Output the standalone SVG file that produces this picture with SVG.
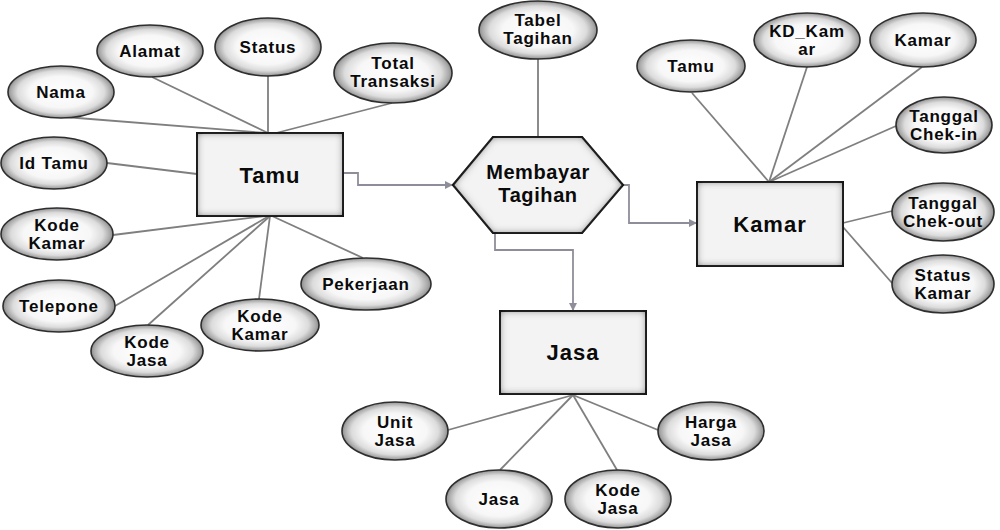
<svg xmlns="http://www.w3.org/2000/svg" width="1000" height="530" viewBox="0 0 1000 530">
<defs>
<radialGradient id="eg" cx="0.5" cy="0.5" r="0.5">
<stop offset="0" stop-color="#ffffff"/>
<stop offset="0.6" stop-color="#f7f7f7"/>
<stop offset="0.82" stop-color="#dcdcdc"/>
<stop offset="0.95" stop-color="#a8a8a8"/>
<stop offset="1" stop-color="#8a8a8a"/>
</radialGradient>
<filter id="innerR" x="-10%" y="-10%" width="120%" height="120%">
<feFlood flood-color="#000000"/>
<feComposite in2="SourceAlpha" operator="out"/>
<feGaussianBlur stdDeviation="4"/>
<feComponentTransfer><feFuncA type="linear" slope="1.1"/></feComponentTransfer>
<feComposite in2="SourceAlpha" operator="in" result="sh"/>
<feMerge><feMergeNode in="SourceGraphic"/><feMergeNode in="sh"/></feMerge>
</filter>
<marker id="arr" viewBox="0 0 10 10" refX="10" refY="5" markerWidth="8" markerHeight="8" markerUnits="userSpaceOnUse" orient="auto">
<path d="M0,0 L10,5 L0,10 Z" fill="#8e8e9a"/>
</marker>
<style>
.attr ellipse{fill:url(#eg);stroke:#2e2e2e;stroke-width:1.6}
.ent rect,.ent polygon{fill:#f3f3f3;stroke:#2e2e2e;stroke-width:2;filter:url(#innerR)}
text{font-family:"Liberation Sans",Arial,sans-serif;font-weight:bold;fill:#0a0a0a;text-anchor:middle}
.a{font-size:17px;letter-spacing:0.8px}
.e{font-size:22px;letter-spacing:1px}
.r{font-size:20px;letter-spacing:0.6px}
.ln{stroke:#7f7f7f;stroke-width:1.8;fill:none}
.ar{stroke:#8e8e9a;stroke-width:1.8;fill:none;marker-end:url(#arr)}
</style>
</defs>
<rect width="1000" height="530" fill="#ffffff"/>

<g id="connectors">
<line class="ln" x1="65" y1="117" x2="266" y2="133"/>
<line class="ln" x1="152" y1="77" x2="268" y2="133"/>
<line class="ln" x1="268" y1="76" x2="268" y2="133"/>
<line class="ln" x1="392" y1="103" x2="276" y2="133"/>
<line class="ln" x1="107" y1="163" x2="197" y2="174"/>
<line class="ln" x1="113" y1="235" x2="265" y2="216"/>
<line class="ln" x1="115" y1="306" x2="269" y2="216"/>
<line class="ln" x1="148" y1="325" x2="270" y2="216"/>
<line class="ln" x1="259" y1="299" x2="270" y2="216"/>
<line class="ln" x1="363" y1="258" x2="272" y2="216"/>
<line class="ln" x1="538" y1="59" x2="538" y2="137"/>
<line class="ln" x1="692" y1="93" x2="769" y2="182"/>
<line class="ln" x1="807" y1="67" x2="769" y2="182"/>
<line class="ln" x1="922" y1="67" x2="769" y2="182"/>
<line class="ln" x1="896" y1="126" x2="769" y2="182"/>
<line class="ln" x1="843" y1="223" x2="892" y2="211"/>
<line class="ln" x1="843" y1="227" x2="892" y2="283"/>
<line class="ln" x1="573" y1="395" x2="448" y2="430"/>
<line class="ln" x1="573" y1="395" x2="500" y2="470"/>
<line class="ln" x1="573" y1="395" x2="617" y2="470"/>
<line class="ln" x1="573" y1="395" x2="658" y2="430"/>
<path class="ar" d="M343,173 H358 V185 H453"/>
<path class="ar" d="M623,185 H629 V223 H697"/>
<path class="ar" d="M495,233 V250 H573 V311"/>
</g>

<g id="tamu" class="ent"><rect x="197" y="133" width="146" height="83"/><text class="e" x="270" y="183">Tamu</text></g>
<g id="membayar" class="ent"><polygon points="453,185 493,137 582,137 623,185 582,233 493,233"/><text class="r" x="538" y="179">Membayar</text><text class="r" x="538" y="202">Tagihan</text></g>
<g id="kamar" class="ent"><rect x="697" y="182" width="146" height="84"/><text class="e" x="770" y="232">Kamar</text></g>
<g id="jasa" class="ent"><rect x="500" y="311" width="146" height="83"/><text class="e" x="573" y="360">Jasa</text></g>

<g id="nama" class="attr"><ellipse cx="61" cy="92" rx="53" ry="26"/><text class="a" x="61" y="98">Nama</text></g>
<g id="alamat" class="attr"><ellipse cx="150" cy="51" rx="53" ry="26"/><text class="a" x="150" y="57">Alamat</text></g>
<g id="status" class="attr"><ellipse cx="268" cy="47" rx="53" ry="29"/><text class="a" x="268" y="53">Status</text></g>
<g id="total-transaksi" class="attr"><ellipse cx="393" cy="73" rx="59" ry="30"/><text class="a" x="393" y="69">Total</text><text class="a" x="393" y="87">Transaksi</text></g>
<g id="id-tamu" class="attr"><ellipse cx="54" cy="163" rx="53" ry="26"/><text class="a" x="54" y="169">Id Tamu</text></g>
<g id="kode-kamar-1" class="attr"><ellipse cx="57" cy="234" rx="56" ry="26"/><text class="a" x="57" y="231">Kode</text><text class="a" x="57" y="249">Kamar</text></g>
<g id="telepone" class="attr"><ellipse cx="59" cy="306" rx="56" ry="26"/><text class="a" x="59" y="312">Telepone</text></g>
<g id="kode-jasa-1" class="attr"><ellipse cx="147" cy="351" rx="56" ry="26"/><text class="a" x="147" y="348">Kode</text><text class="a" x="147" y="366">Jasa</text></g>
<g id="kode-kamar-2" class="attr"><ellipse cx="260" cy="325" rx="59" ry="26"/><text class="a" x="260" y="322">Kode</text><text class="a" x="260" y="340">Kamar</text></g>
<g id="pekerjaan" class="attr"><ellipse cx="366" cy="284" rx="65" ry="26"/><text class="a" x="366" y="290">Pekerjaan</text></g>

<g id="tabel-tagihan" class="attr"><ellipse cx="538" cy="30" rx="59" ry="29"/><text class="a" x="538" y="26">Tabel</text><text class="a" x="538" y="44">Tagihan</text></g>

<g id="tamu-k" class="attr"><ellipse cx="691" cy="66" rx="54" ry="26"/><text class="a" x="691" y="72">Tamu</text></g>
<g id="kd-kamar" class="attr"><ellipse cx="807" cy="40" rx="53" ry="27"/><text class="a" x="807" y="37">KD_Kam</text><text class="a" x="807" y="55">ar</text></g>
<g id="kamar-a" class="attr"><ellipse cx="923" cy="40" rx="53" ry="27"/><text class="a" x="923" y="46">Kamar</text></g>
<g id="tgl-checkin" class="attr"><ellipse cx="944" cy="125" rx="48" ry="28"/><text class="a" x="944" y="122">Tanggal</text><text class="a" x="944" y="140">Chek-in</text></g>
<g id="tgl-checkout" class="attr"><ellipse cx="943" cy="212" rx="51" ry="29"/><text class="a" x="943" y="209">Tanggal</text><text class="a" x="943" y="227">Chek-out</text></g>
<g id="status-kamar" class="attr"><ellipse cx="943" cy="284" rx="51" ry="29"/><text class="a" x="943" y="281">Status</text><text class="a" x="943" y="299">Kamar</text></g>

<g id="unit-jasa" class="attr"><ellipse cx="395" cy="431" rx="53" ry="29"/><text class="a" x="395" y="428">Unit</text><text class="a" x="395" y="446">Jasa</text></g>
<g id="jasa-a" class="attr"><ellipse cx="499" cy="499" rx="53" ry="29"/><text class="a" x="499" y="505">Jasa</text></g>
<g id="kode-jasa-2" class="attr"><ellipse cx="618" cy="499" rx="53" ry="29"/><text class="a" x="618" y="496">Kode</text><text class="a" x="618" y="514">Jasa</text></g>
<g id="harga-jasa" class="attr"><ellipse cx="711" cy="431" rx="53" ry="29"/><text class="a" x="711" y="428">Harga</text><text class="a" x="711" y="446">Jasa</text></g>
</svg>
